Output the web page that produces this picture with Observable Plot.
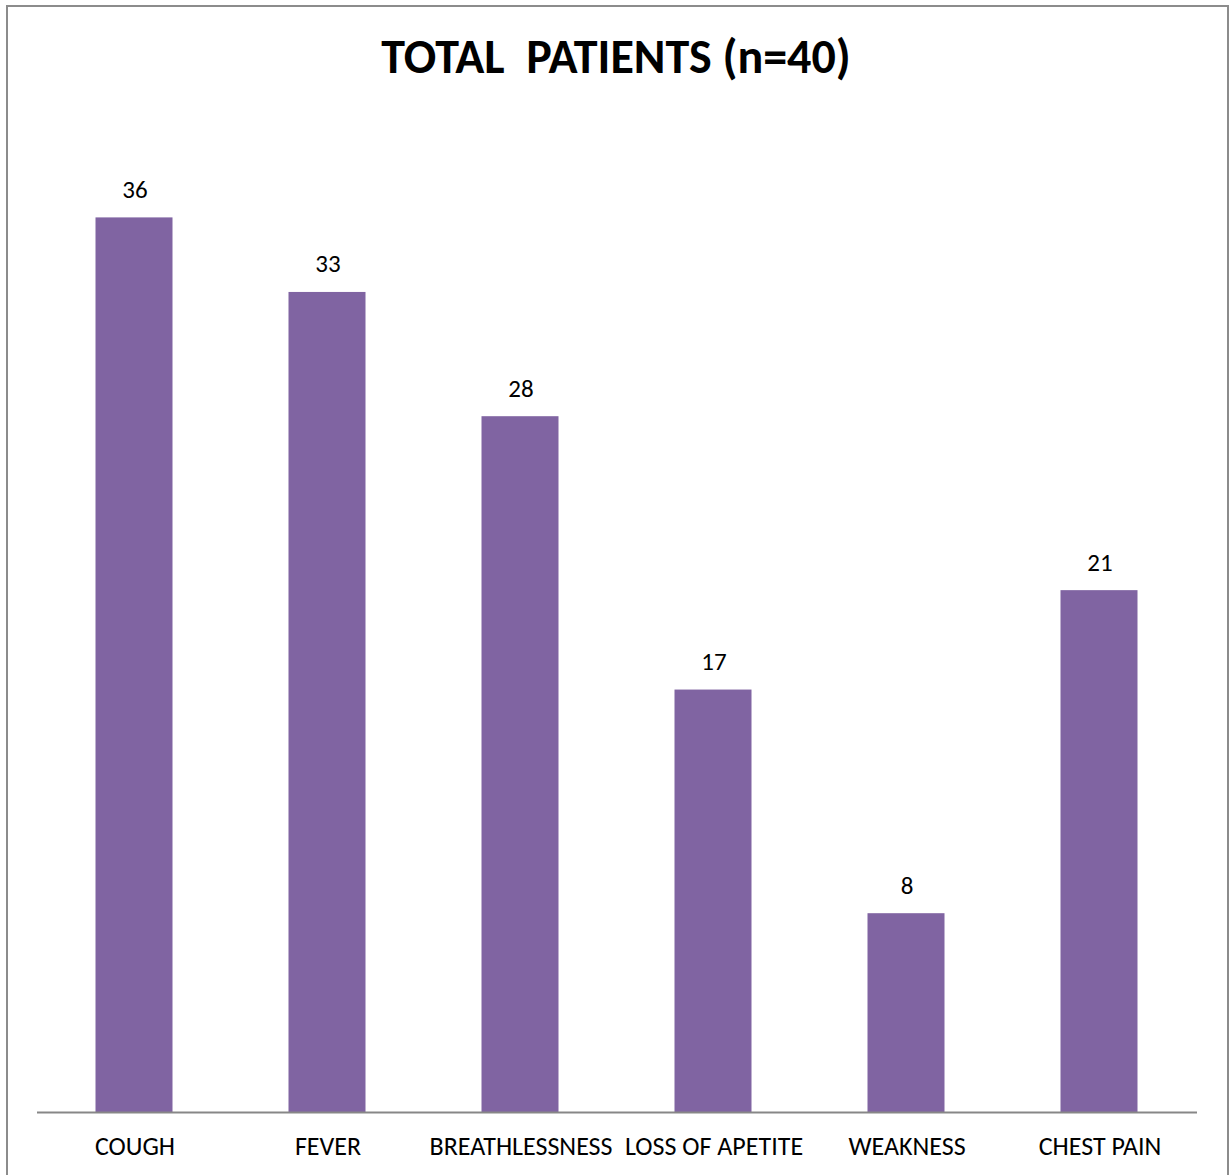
<!DOCTYPE html>
<html>
<head>
<meta charset="utf-8">
<script src="https://cdn.jsdelivr.net/npm/d3@7"></script>
<script src="https://cdn.jsdelivr.net/npm/@observablehq/plot@0.6"></script>
<style>
  html, body { margin: 0; padding: 0; background: #fff; }
  body { width: 1232px; height: 1175px; position: relative; overflow: hidden; font-family: Carlito, Lato, "Liberation Sans", sans-serif; }
  #frame { position: absolute; left: 6px; top: 5px; width: 1219px; height: 1200px; border: 2px solid #8c8c8c; border-bottom: none; }
  #title { position: absolute; left: 0; top: 28px; width: 1232px; text-align: center; font-weight: bold; font-size: 48px; line-height: 58px; color: #000; }
  #chart { position: absolute; left: 0; top: 110px; }
</style>
</head>
<body>
<div id="frame"></div>
<div id="title">TOTAL&nbsp; PATIENTS (n=40)</div>
<div id="chart"></div>
<script>
// Symptom counts among the 40 patients
const symptoms = ["COUGH", "FEVER", "BREATHLESSNESS", "LOSS OF APETITE", "WEAKNESS", "CHEST PAIN"];
const patients = [36, 33, 28, 17, 8, 21];

const rows = symptoms.map((s, i) => ({symptom: s, count: patients[i]}));

const chart = Plot.plot({
  width: 1232,
  height: 1065,
  marginLeft: 37,
  marginRight: 35,
  marginTop: 8,
  marginBottom: 63,
  style: {fontFamily: "Carlito, Lato, 'Liberation Sans', sans-serif", fontSize: "25px", color: "#000", background: "transparent"},
  x: {domain: symptoms, paddingInner: 0.6, paddingOuter: 0.3},
  y: {domain: [0, 40], axis: null},
  marks: [
    Plot.barY(rows, {x: "symptom", y: "count", fill: "#8064a2", dx: -0.5}),
    Plot.ruleY([0], {stroke: "#878787", strokeWidth: 2}),
    Plot.axisX({tickSize: 0, tickPadding: 24, fontSize: 26, label: null, fill: "#000"}),
    Plot.text(rows, {x: "symptom", y: "count", text: d => String(d.count), dy: -28, fill: "#000", fontSize: 25})
  ]
});
document.getElementById("chart").appendChild(chart);
</script>
</body>
</html>
